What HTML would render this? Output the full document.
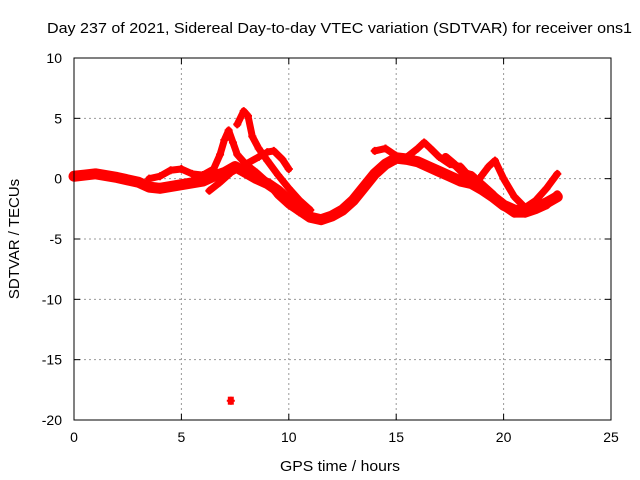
<!DOCTYPE html>
<html><head><meta charset="utf-8"><style>
body{margin:0;background:#fff}
svg{display:block;font-family:"Liberation Sans",sans-serif}
</style></head><body>
<svg id="c" width="640" height="480" xmlns="http://www.w3.org/2000/svg">
<rect width="640" height="480" fill="#fff"/>
<text x="47" y="33" font-size="15" textLength="585" lengthAdjust="spacingAndGlyphs">Day 237 of 2021, Sidereal Day-to-day VTEC variation (SDTVAR) for receiver ons1</text>
<text x="280" y="471" font-size="15" textLength="120" lengthAdjust="spacingAndGlyphs">GPS time / hours</text>
<text transform="translate(19,239) rotate(-90)" text-anchor="middle" font-size="15">SDTVAR / TECUs</text>
<g id="grid"></g><g id="ticks"></g><g id="series"></g>
<rect x="74" y="58" width="537" height="362" fill="none" stroke="#000"/>
</svg>
<script>
const xTicks=[0,5,10,15,20,25];
const yTicks=[10,5,0,-5,-10,-15,-20];
const trackMain=[[0,0.2],[0.5,0.3],[1,0.4],[2,0.1],[3,-0.3],[3.5,-0.7],[4,-0.8],[5,-0.5],[6,-0.2],[6.5,0.2],[7,0.5],[7.5,1],[8,0.5],[8.5,0],[9,-0.4],[9.5,-1],[10,-1.8],[10.5,-2.6],[11,-3.2],[11.5,-3.4],[12,-3.1],[12.5,-2.6],[13,-1.8],[13.5,-0.7],[14,0.4],[14.5,1.2],[15,1.7],[15.5,1.6],[16,1.4],[16.5,1],[17,0.6],[17.5,0.2],[18,-0.2],[18.5,-0.4],[19,-0.9],[19.5,-1.5],[20,-2.2],[20.5,-2.6],[21,-2.7],[21.5,-2.4],[22,-2],[22.5,-1.5]];
const trackB=[[3.5,0],[4,0.2],[4.5,0.7],[5,0.8],[5.5,0.4],[6,0.3],[6.5,0.8],[6.8,2],[7,3.2],[7.2,4],[7.4,3],[7.6,2],[8,1.2],[8.5,0.5],[9,-0.3],[9.5,-1.4],[10,-2.2],[10.5,-2.8],[11,-3]];
const trackC=[[7.6,4.5],[7.9,5.6],[8.1,5.2],[8.3,3.5],[8.6,2.5],[9,1.5],[9.5,0.3],[10,-0.8],[10.5,-1.8],[11,-2.6]];
const trackD=[[6.3,-1],[6.8,-0.3],[7.3,0.5],[8,1.2],[8.6,1.8],[9,2.2],[9.3,2.3],[9.7,1.6],[10,0.8]];
const trackE=[[14,2.3],[14.5,2.5],[15,1.9],[15.5,1.8],[16,2.5],[16.3,3],[16.6,2.5],[17,1.8],[17.5,1.2],[18,1],[18.4,0.2],[18.7,-0.5],[19,0.3],[19.3,1],[19.6,1.5],[20,0],[20.5,-1.5],[21,-2.4],[21.5,-1.8],[22,-0.8],[22.5,0.4]];
const trackF=[[17.3,1.8],[17.7,1.2],[18.1,0.5],[18.5,0.3],[19,-0.5],[19.5,-1.3],[20,-2.3],[20.5,-2.9],[21,-2.9],[21.5,-2.6],[22,-2.2],[22.5,-1.3]];
const trackG=[[7.3,-18.4]];
const tracks=[trackMain,trackB,trackC,trackD,trackE,trackF,trackG];
const widths=[11,7,7,7,7,8,0];
const NS='http://www.w3.org/2000/svg';
const X0=74,X1=611,Y0=420,Y1=58;
function sx(v){return X0+(v-0)/(25-0)*(X1-X0);}
function sy(v){return Y0-(v-(-20))/(30)*(Y0-Y1);}
function mk(t,a,p){const e=document.createElementNS(NS,t);for(const k in a)e.setAttribute(k,a[k]);p.appendChild(e);return e;}
const g=document.getElementById('grid'),tk=document.getElementById('ticks'),s=document.getElementById('series');
xTicks.forEach(v=>{const x=sx(v);
 if(v>0&&v<25){const l=mk('line',{x1:x,x2:x,y1:Y1,y2:Y0,stroke:'#999','stroke-dasharray':'2,3'},g);
 
 }
 mk('line',{x1:x,x2:x,y1:Y0,y2:Y0-6,stroke:'#000'},tk);mk('line',{x1:x,x2:x,y1:Y1,y2:Y1+6,stroke:'#000'},tk);
 const t=mk('text',{x:x,y:442,'text-anchor':'middle','font-size':14},tk);t.textContent=v;
 
 });
yTicks.forEach(v=>{const y=sy(v);
 if(v>-20&&v<10){const l=mk('line',{x1:X0,x2:X1,y1:y,y2:y,stroke:'#999','stroke-dasharray':'2,3'},g);
 
 }
 mk('line',{x1:X0,x2:X0+6,y1:y,y2:y,stroke:'#000'},tk);mk('line',{x1:X1,x2:X1-6,y1:y,y2:y,stroke:'#000'},tk);
 const t=mk('text',{x:62,y:y+5,'text-anchor':'end','font-size':14},tk);t.textContent=v;
 
 });
tracks.forEach((tr,i)=>{
 const grp=mk('g',{},s);
 
 
 if(tr.length>1){mk('polyline',{points:tr.map(p=>sx(p[0])+','+sy(p[1])).join(' '),fill:'none',stroke:'#f00','stroke-width':widths[i],'stroke-linejoin':'round','stroke-linecap':'round'},grp);}
 tr.forEach(p=>{const x=sx(p[0]),y=sy(p[1]);
  mk('path',{d:`M${x-4},${y}H${x+4}M${x},${y-4}V${y+4}`,stroke:'#f00','stroke-width':2},grp);
  if(tr.length==1)mk('rect',{x:x-3,y:y-4,width:6,height:8,fill:'#f00'},grp);});
});
</script>
</body></html>
